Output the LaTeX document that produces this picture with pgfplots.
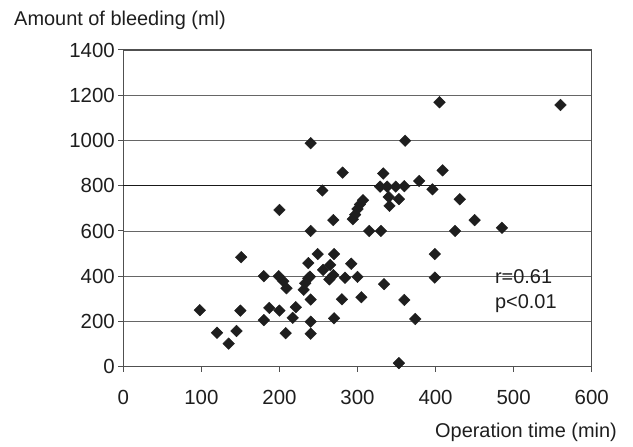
\documentclass[border=0pt]{standalone}
\usepackage{fontspec}
\setmainfont{Liberation Sans}
\usepackage{pgfplots}
\pgfplotsset{compat=1.18}
\definecolor{ink}{HTML}{1E1E1E}
\definecolor{axisgray}{HTML}{505050}
\begin{document}
\begin{tikzpicture}
\begin{axis}[
  scale only axis,
  width=468.4bp, height=316.7bp,
  xmin=0, xmax=600, ymin=0, ymax=1400,
  xtick={0,100,...,600},
  ytick={0,200,...,1400},
  font=\fontsize{20}{24}\selectfont,
  ticklabel style={font=\fontsize{20.5}{24}\selectfont, text=ink},
  /pgf/number format/assume math mode=true,
  /pgf/number format/set thousands separator={},
  tick pos=left,
  tick align=outside,
  major tick length=5bp,
  tick style={color=axisgray, line width=1bp},
  axis line style={color=axisgray, line width=1.3bp},
  ymajorgrids,
  grid style={color=black!60, line width=0.8bp},
  extra y ticks={800},
  extra y tick labels={},
  extra y tick style={grid style={color=black!90, line width=1.2bp}},
  xticklabel style={yshift=-15bp},
  xlabel={Operation time (min)},
  ylabel={Amount of bleeding (ml)},
  xlabel style={at={(rel axis cs:1.054,-0.222)}, anchor=base east, inner sep=0pt, text=ink},
  ylabel style={rotate=-90, at={(rel axis cs:-0.2333,1.0758)}, anchor=base west, inner sep=0pt, text=ink},
  clip=false,
]
\addplot[only marks, mark=square*, mark size=4.1bp, mark options={rotate=45, fill=ink, draw=ink}] coordinates {
(98,250) (120,150) (135,102) (145,158) (150,248) (151,484)
(180,400) (180,206) (187,260) (200,693) (199,400) (200,248)
(205,378) (209,347) (208,148) (217,216) (221,263) (231,340)
(233,369) (237,391) (240,600) (237,458) (239,398) (240,297)
(240,199) (240,146) (240,988) (249,498) (255,779) (256,428)
(265,450) (264,386) (269,405) (269,648) (270,498) (270,214)
(280,298) (281,858) (284,393) (292,455) (294,652) (297,672)
(300,697) (303,717) (307,736) (300,397) (305,307) (315,600)
(330,600) (333,854) (334,365) (329,796) (338,796) (349,796)
(360,798) (340,750) (353,741) (341,711) (353,16) (360,295)
(361,999) (374,211) (379,821) (396,784) (399,498) (399,394)
(405,1169) (409,868) (425,600) (431,740) (450,648) (485,614)
(560,1157)
};
\node[anchor=base west, inner sep=0pt, text=ink] at (axis cs:476,366) {r=0.61};
\node[anchor=base west, inner sep=0pt, text=ink] at (axis cs:476,259) {p<0.01};
\end{axis}
\path ([shift={(-123.3bp,-79.3bp)}]current axis.south west) rectangle ([shift={(41.3bp,50bp)}]current axis.north east);
\end{tikzpicture}
\end{document}
